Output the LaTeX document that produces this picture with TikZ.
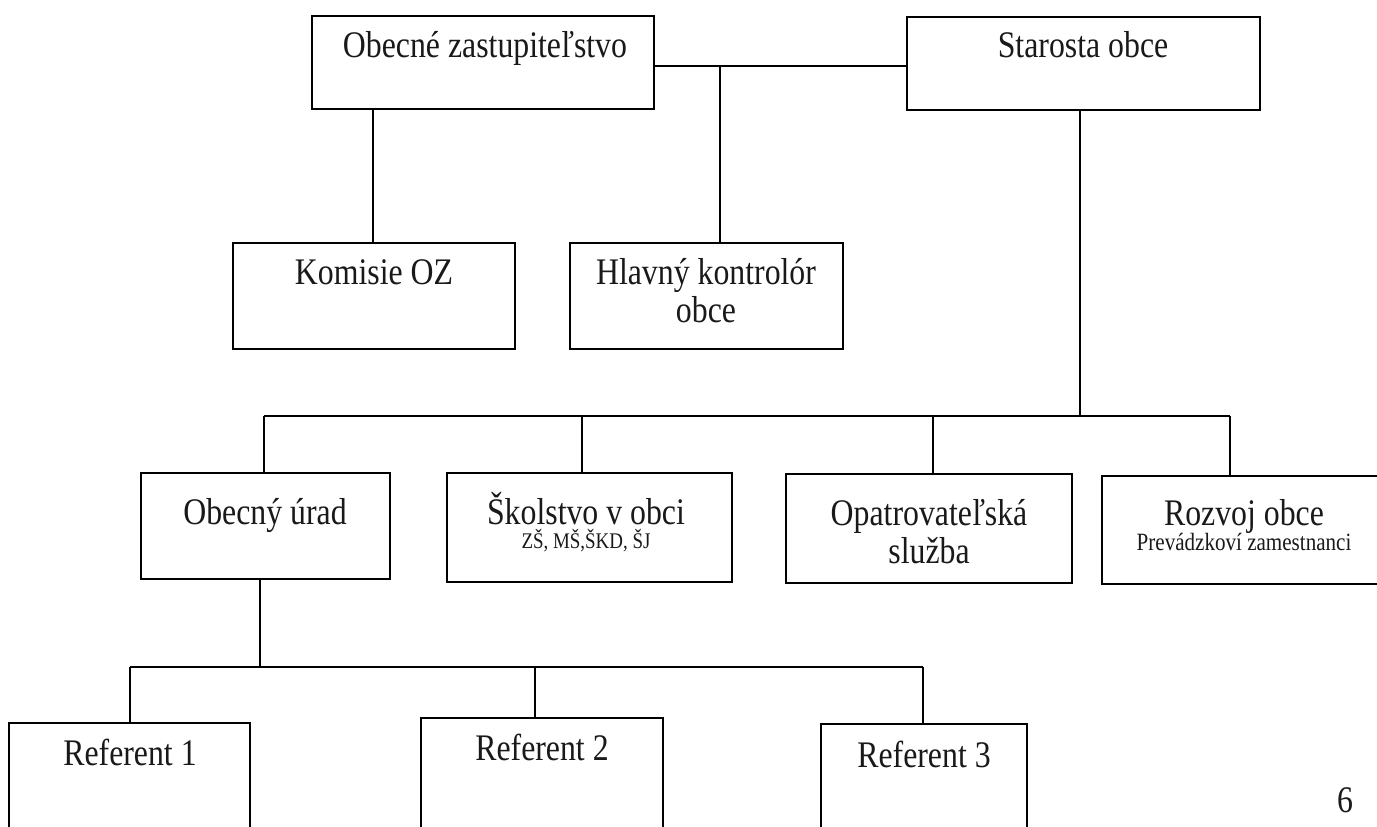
\documentclass[tikz,border=0pt]{standalone}
\usepackage{graphicx}
\usepackage{fontspec}
\setmainfont{Liberation Serif}
\newcommand{\sx}[1]{\scalebox{1}[1.18]{#1}}
\tikzset{
  box/.style={draw=black, line width=1.5pt, rectangle, inner sep=0pt, outer sep=0pt, anchor=north west},
  conn/.style={draw=black, line width=0.9pt},
  tx/.style={font=\fontsize{23.85}{28}\selectfont, inner sep=0pt, anchor=base, text=black!90},
  smA/.style={font=\fontsize{14.2}{17}\selectfont, inner sep=0pt, anchor=base, text=black!90},
  smB/.style={font=\fontsize{15.8}{19}\selectfont, inner sep=0pt, anchor=base, text=black!90},
}
\begin{document}
\begin{tikzpicture}[x=0.75pt, y=-0.75pt]
\clip (0,0) rectangle (1377,827);
\fill[white] (0,0) rectangle (1377,827);

% row 1
\node[box, minimum width=342*0.75pt, minimum height=93*0.75pt] (oz) at (312,16) {};
\node[tx] (ozt) at (485,58) {\sx{Obecné zastupiteľstvo}};
\node[box, minimum width=353*0.75pt, minimum height=93*0.75pt] (st) at (907,17) {};
\node[tx] (stt) at (1083,58) {\sx{Starosta obce}};

% row 2
\node[box, minimum width=282*0.75pt, minimum height=106*0.75pt] (kom) at (233,243) {};
\node[tx] (komt) at (374,285) {\sx{Komisie OZ}};
\node[box, minimum width=273*0.75pt, minimum height=106*0.75pt] (hk) at (570,243) {};
\node[tx] (hkt1) at (706,285) {\sx{Hlavný kontrolór}};
\node[tx] (hkt2) at (706,322) {\sx{obce}};

% row 3
\node[box, minimum width=249*0.75pt, minimum height=106*0.75pt] (ou) at (141,473) {};
\node[tx] (out) at (265,524) {\sx{Obecný úrad}};
\node[box, minimum width=285*0.75pt, minimum height=109*0.75pt] (sk) at (447,473) {};
\node[tx] (skt1) at (586,524) {\sx{Školstvo v obci}};
\node[smA] (skt2) at (586,548) {\sx{ZŠ, MŠ,ŠKD, ŠJ}};
\node[box, minimum width=286*0.75pt, minimum height=109*0.75pt] (op) at (786,474) {};
\node[tx] (opt1) at (929,525) {\sx{Opatrovateľská}};
\node[tx] (opt2) at (929,563) {\sx{služba}};
\node[box, minimum width=288*0.75pt, minimum height=108*0.75pt] (rz) at (1102,476) {};
\node[tx] (rzt1) at (1244,525) {\sx{Rozvoj obce}};
\node[smB] (rzt2) at (1244,550) {\sx{Prevádzkoví zamestnanci}};

% row 4
\node[box, minimum width=241*0.75pt, minimum height=140*0.75pt] (r1) at (9,723) {};
\node[tx] (r1t) at (130,765) {\sx{Referent 1}};
\node[box, minimum width=242*0.75pt, minimum height=140*0.75pt] (r2) at (421,718) {};
\node[tx] (r2t) at (542,760) {\sx{Referent 2}};
\node[box, minimum width=206*0.75pt, minimum height=140*0.75pt] (r3) at (821,724) {};
\node[tx] (r3t) at (924,767) {\sx{Referent 3}};

\node[tx] (pg) at (1345,812) {\sx{6}};

% connectors
\coordinate (j1) at (720,66);
\coordinate (c1) at (373,0);
\coordinate (c2) at (1080,416);
\coordinate (d1) at (264,416);
\coordinate (d2) at (582,416);
\coordinate (d3) at (933,416);
\coordinate (d4) at (1230,416);
\coordinate (e0) at (260,667);
\coordinate (e1) at (130,667);
\coordinate (e2) at (535,667);
\coordinate (e3) at (923,667);

\draw[conn] (oz.east |- j1) -- (st.west |- j1);
\draw[conn] (j1) -- (j1 |- hk.north);
\draw[conn] (oz.south -| c1) -- (kom.north -| c1);
\draw[conn] (st.south -| c2) -- (c2);
\draw[conn] (d1) -- (d4);
\draw[conn] (d1) -- (d1 |- ou.north);
\draw[conn] (d2) -- (d2 |- sk.north);
\draw[conn] (d3) -- (d3 |- op.north);
\draw[conn] (d4) -- (d4 |- rz.north);
\draw[conn] (ou.south -| e0) -- (e0);
\draw[conn] (e1) -- (e3);
\draw[conn] (e1) -- (e1 |- r1.north);
\draw[conn] (e2) -- (e2 |- r2.north);
\draw[conn] (e3) -- (e3 |- r3.north);
\end{tikzpicture}
\end{document}
